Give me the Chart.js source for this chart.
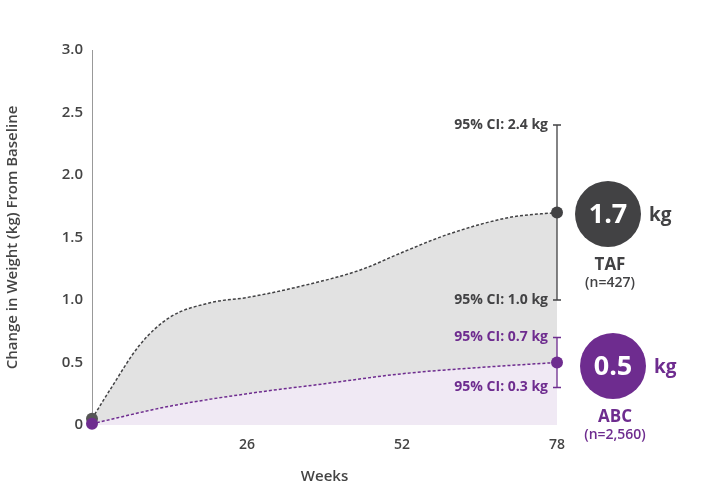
<!DOCTYPE html>
<html><head><meta charset="utf-8">
<script src="https://cdn.jsdelivr.net/npm/chart.js@4"></script>
<style>body{margin:0;background:#fff}</style></head>
<body><canvas id="c" width="716" height="490"></canvas>
<script>
const tafWeeks=[0,3,8,13,20,26,35,45,52,60,70,78];
const tafVals=[0.05,0.28,0.64,0.86,0.98,1.02,1.11,1.24,1.38,1.53,1.66,1.7];
const abcWeeks=[0,13,26,39,52,65,78];
const abcVals=[0.01,0.15,0.25,0.33,0.41,0.46,0.5];
const xTicks=[26,52,78];
const tafCI=[1.0,2.4], abcCI=[0.3,0.7];
const tafEnd=1.7, abcEnd=0.5;
const grey='#424244', purple='#6e2c8f';
const F='"Open Sans", sans-serif';
const plug={id:'ann',afterDatasetsDraw(ch){
 const c=ch.ctx,x=ch.scales.x,y=ch.scales.y;
 const px=x.getPixelForValue(78);
 function bar(ci,col){
  const a=y.getPixelForValue(ci[0]),b=y.getPixelForValue(ci[1]);
  c.strokeStyle=col;c.lineWidth=1.3;c.beginPath();c.moveTo(px,a);c.lineTo(px,b);
  c.moveTo(px-4,a);c.lineTo(px+4,a);c.moveTo(px-4,b);c.lineTo(px+4,b);c.stroke();
  c.fillStyle=col;c.font='bold 14px '+F;c.textAlign='right';c.textBaseline='middle';
  c.fillText('95% CI: '+ci[1].toFixed(1)+' kg',px-9,b);
  c.fillText('95% CI: '+ci[0].toFixed(1)+' kg',px-9,a);
 }
 bar(tafCI,grey);bar(abcCI,purple);
 function bub(v,col,name,n,cx,cy){
  const py=y.getPixelForValue(v);
  c.fillStyle=col;c.beginPath();c.arc(px,py,6,0,7);c.fill();
  c.beginPath();c.arc(cx,cy,33,0,7);c.fill();
  c.fillStyle='#fff';c.font='bold 27px '+F;c.textAlign='center';c.fillText(v.toFixed(1),cx,cy+1);
  c.fillStyle=col;c.font='bold 19px '+F;c.textAlign='left';c.fillText('kg',cx+41,cy+2);
  c.textAlign='center';c.font='bold 17px '+F;c.fillText(name,cx+2,cy+51);
  c.font='600 14px '+F;c.fillText(n,cx+2,cy+69);
 }
 bub(tafEnd,grey,'TAF','(n=427)',608,214);
 bub(abcEnd,purple,'ABC','(n=2,560)',613,366);
}};
new Chart(document.getElementById('c'),{type:'line',
 data:{datasets:[
  {data:abcWeeks.map((w,i)=>({x:w,y:abcVals[i]})),borderColor:purple,borderDash:[3,2],borderWidth:1.5,fill:'origin',backgroundColor:'#f0e9f4',cubicInterpolationMode:'monotone',clip:false,pointRadius:abcVals.map((v,i)=>i===0?6:0),pointBackgroundColor:purple,pointBorderWidth:0},
  {data:tafWeeks.map((w,i)=>({x:w,y:tafVals[i]})),borderColor:grey,borderDash:[3,2],borderWidth:1.5,fill:'origin',backgroundColor:'#e2e2e2',cubicInterpolationMode:'monotone',clip:false,pointRadius:tafVals.map((v,i)=>i===0?6:0),pointBackgroundColor:'#555',pointBorderWidth:0}
 ]},
 options:{responsive:false,animation:false,layout:{padding:{top:50,right:159,left:0,bottom:0}},
  plugins:{legend:{display:false},tooltip:{enabled:false}},
  scales:{
   x:{type:'linear',min:0,max:78,afterFit:s=>{s.height=65},afterBuildTicks:s=>{s.ticks=xTicks.map(v=>({value:v}))},
     grid:{display:false},border:{display:false},
     ticks:{color:'#444',font:{family:F,size:14,weight:'600'},padding:4},
     title:{display:true,text:'Weeks',color:'#444',font:{family:F,size:15,weight:'600'},padding:{top:8}}},
   y:{min:0,max:3,afterFit:s=>{s.width=92},grid:{display:false,drawTicks:true,tickLength:6,tickColor:'#999'},border:{display:true,color:'#999'},
     ticks:{stepSize:0.5,color:'#444',font:{family:F,size:15,weight:'600'},callback:v=>v===0?'0':v.toFixed(1)},
     title:{display:true,text:'Change in Weight (kg) From Baseline',color:'#444',font:{family:F,size:15,weight:'600'}}}
  }},plugins:[plug]});
</script></body></html>
